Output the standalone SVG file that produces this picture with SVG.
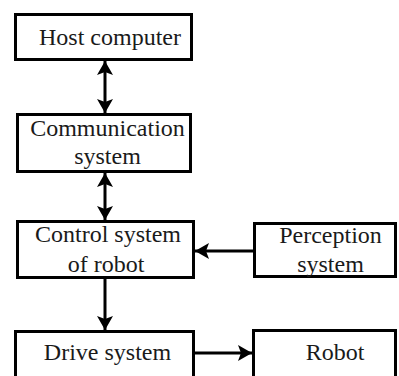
<svg xmlns="http://www.w3.org/2000/svg" width="399" height="376" viewBox="0 0 399 376" font-family="Liberation Serif, Times New Roman, DejaVu Serif, serif">
<defs>
<marker id="ah" markerUnits="userSpaceOnUse" markerWidth="16" markerHeight="16" viewBox="0 0 14 16" refX="14" refY="8" orient="auto-start-reverse">
<path d="M0,0 L14,8 L0,16 L3,8 Z" fill="#000"/>
</marker>
<style>
.box{fill:#fff;stroke:#000;stroke-width:3}
.lbl{font-size:24px;fill:#1a1a1a;text-anchor:middle}
.con{stroke:#000;stroke-width:3;fill:none}
</style>
</defs>
<rect width="399" height="376" fill="#fff"/>
<g id="host">
<rect class="box" x="15.5" y="14.5" width="176" height="45"/>
<text class="lbl" x="110" y="45" font-family="Liberation Serif, serif">Host computer</text>
</g>
<g id="comm">
<rect class="box" x="17.5" y="114.5" width="173" height="57"/>
<text class="lbl" x="107.5" y="136" font-family="Liberation Serif, serif">Communication</text>
<text class="lbl" x="107.5" y="164" font-family="Liberation Serif, serif">system</text>
</g>
<g id="control">
<rect class="box" x="17.5" y="221.5" width="176" height="56"/>
<text class="lbl" x="108" y="242" font-family="Liberation Serif, serif">Control system</text>
<text class="lbl" x="106" y="272" font-family="Liberation Serif, serif">of robot</text>
</g>
<g id="perception">
<rect class="box" x="254.5" y="223.5" width="141" height="53"/>
<text class="lbl" x="330.5" y="243" font-family="Liberation Serif, serif">Perception</text>
<text class="lbl" x="330.5" y="272" font-family="Liberation Serif, serif">system</text>
</g>
<g id="drive">
<rect class="box" x="15.5" y="331.5" width="178" height="60"/>
<text class="lbl" x="107.5" y="360" font-family="Liberation Serif, serif">Drive system</text>
</g>
<g id="robot">
<rect class="box" x="253.5" y="330.5" width="142" height="60"/>
<text class="lbl" x="335" y="360" font-family="Liberation Serif, serif">Robot</text>
</g>
<g id="connectors">
<line class="con" x1="105" y1="61" x2="105" y2="113" marker-start="url(#ah)" marker-end="url(#ah)"/>
<line class="con" x1="105" y1="173" x2="105" y2="220" marker-start="url(#ah)" marker-end="url(#ah)"/>
<line class="con" x1="105" y1="279" x2="105" y2="330" marker-end="url(#ah)"/>
<line class="con" x1="253" y1="251" x2="195" y2="251" marker-end="url(#ah)"/>
<line class="con" x1="195" y1="353" x2="252" y2="353" marker-end="url(#ah)"/>
</g>
</svg>
